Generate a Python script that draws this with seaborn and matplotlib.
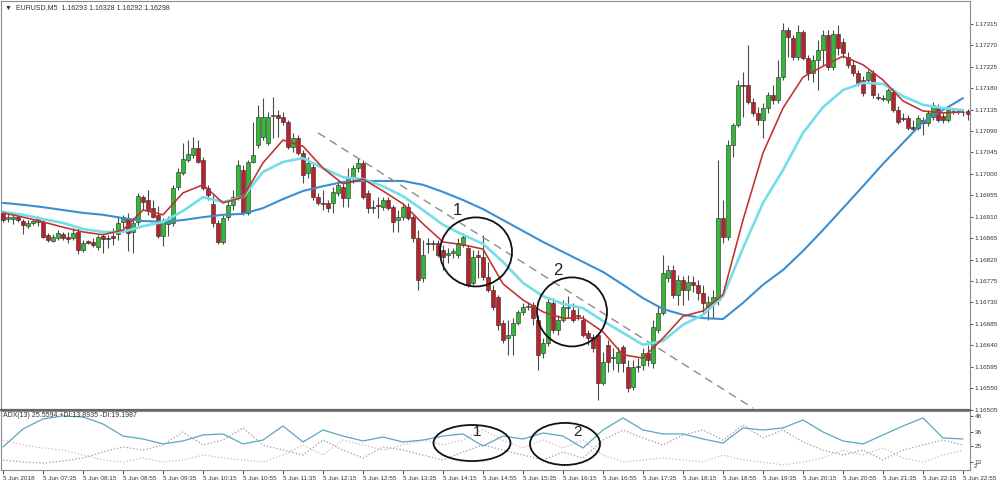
import numpy as np
import pandas as pd
import matplotlib
matplotlib.use("Agg")
import matplotlib.pyplot as plt
import seaborn as sns
from matplotlib.patches import Ellipse

# ---------------- data (EURUSD M5, 5 Jun 2018) ----------------
open_ = [1.16918, 1.16905, 1.16905, 1.16909, 1.16901, 1.16890, 1.16897, 1.16899, 1.16899, 1.16872,
         1.16859, 1.16865, 1.16874, 1.16867, 1.16865, 1.16878, 1.16840, 1.16859, 1.16857, 1.16846,
         1.16869, 1.16865, 1.16869, 1.16874, 1.16899, 1.16907, 1.16878, 1.16899, 1.16951, 1.16945,
         1.16928, 1.16914, 1.16869, 1.16895, 1.16897, 1.16972, 1.17002, 1.17029, 1.17040, 1.17054,
         1.17029, 1.16970, 1.16937, 1.16897, 1.16857, 1.16909, 1.16935, 1.16951, 1.17008, 1.16918,
         1.17025, 1.17061, 1.17077, 1.17065, 1.17121, 1.17124, 1.17119, 1.17109, 1.17056, 1.17075,
         1.17044, 1.17002, 1.17014, 1.16951, 1.16939, 1.16939, 1.16939, 1.16960, 1.16972, 1.16949,
         1.16991, 1.17012, 1.17023, 1.16960, 1.16930, 1.16935, 1.16930, 1.16945, 1.16930, 1.16903,
         1.16909, 1.16930, 1.16909, 1.16865, 1.16781, 1.16855, 1.16855, 1.16855, 1.16840, 1.16830,
         1.16834, 1.16830, 1.16851, 1.16844, 1.16771, 1.16830, 1.16825, 1.16783, 1.16756, 1.16741,
         1.16687, 1.16655, 1.16662, 1.16687, 1.16710, 1.16720, 1.16725, 1.16693, 1.16624, 1.16645,
         1.16729, 1.16672, 1.16693, 1.16718, 1.16714, 1.16704, 1.16693, 1.16666, 1.16657, 1.16662,
         1.16561, 1.16641, 1.16613, 1.16603, 1.16636, 1.16594, 1.16552, 1.16594, 1.16599, 1.16624,
         1.16603, 1.16672, 1.16708, 1.16781, 1.16798, 1.16746, 1.16777, 1.16756, 1.16773, 1.16767,
         1.16750, 1.16720, 1.16729, 1.16735, 1.16907, 1.16867, 1.17061, 1.17103, 1.17187, 1.17187,
         1.17151, 1.17128, 1.17113, 1.17138, 1.17166, 1.17155, 1.17203, 1.17302, 1.17285, 1.17245,
         1.17298, 1.17243, 1.17212, 1.17239, 1.17260, 1.17292, 1.17224, 1.17294, 1.17277, 1.17245,
         1.17229, 1.17212, 1.17197, 1.17197, 1.17212, 1.17161, 1.17159, 1.17155, 1.17172, 1.17134,
         1.17117, 1.17117, 1.17098, 1.17096, 1.17113, 1.17107, 1.17119, 1.17140, 1.17121, 1.17113,
         1.17132, 1.17132, 1.17130, 1.17132]
close = [1.16903, 1.16909, 1.16909, 1.16903, 1.16893, 1.16897, 1.16901, 1.16907, 1.16867, 1.16861,
         1.16867, 1.16876, 1.16865, 1.16863, 1.16876, 1.16840, 1.16855, 1.16855, 1.16851, 1.16867,
         1.16863, 1.16863, 1.16865, 1.16897, 1.16909, 1.16876, 1.16897, 1.16953, 1.16941, 1.16924,
         1.16909, 1.16869, 1.16899, 1.16903, 1.16970, 1.17004, 1.17031, 1.17042, 1.17054, 1.17025,
         1.16970, 1.16956, 1.16897, 1.16857, 1.16907, 1.16935, 1.16951, 1.17019, 1.16918, 1.17025,
         1.17040, 1.17119, 1.17119, 1.17119, 1.17124, 1.17117, 1.17109, 1.17056, 1.17075, 1.17044,
         1.16998, 1.17023, 1.16951, 1.16939, 1.16937, 1.16928, 1.16962, 1.16977, 1.16949, 1.16991,
         1.17012, 1.17023, 1.16951, 1.16928, 1.16928, 1.16932, 1.16945, 1.16928, 1.16899, 1.16909,
         1.16930, 1.16907, 1.16865, 1.16777, 1.16830, 1.16853, 1.16853, 1.16830, 1.16825, 1.16834,
         1.16838, 1.16855, 1.16867, 1.16767, 1.16825, 1.16825, 1.16783, 1.16756, 1.16720, 1.16683,
         1.16651, 1.16662, 1.16687, 1.16710, 1.16720, 1.16722, 1.16697, 1.16620, 1.16645, 1.16731,
         1.16672, 1.16693, 1.16720, 1.16720, 1.16693, 1.16701, 1.16662, 1.16655, 1.16634, 1.16561,
         1.16605, 1.16605, 1.16615, 1.16626, 1.16603, 1.16550, 1.16594, 1.16596, 1.16624, 1.16609,
         1.16678, 1.16708, 1.16792, 1.16798, 1.16746, 1.16777, 1.16756, 1.16773, 1.16767, 1.16750,
         1.16729, 1.16731, 1.16741, 1.16907, 1.16867, 1.17061, 1.17103, 1.17187, 1.17184, 1.17151,
         1.17128, 1.17113, 1.17138, 1.17166, 1.17155, 1.17203, 1.17302, 1.17287, 1.17245, 1.17298,
         1.17243, 1.17212, 1.17239, 1.17260, 1.17292, 1.17224, 1.17294, 1.17264, 1.17254, 1.17229,
         1.17212, 1.17191, 1.17170, 1.17214, 1.17166, 1.17160, 1.17158, 1.17176, 1.17134, 1.17109,
         1.17116, 1.17096, 1.17094, 1.17117, 1.17107, 1.17128, 1.17145, 1.17113, 1.17113, 1.17134,
         1.17131, 1.17131, 1.17129, 1.17126]
high = [1.16924, 1.16916, 1.16918, 1.16914, 1.16905, 1.16903, 1.16905, 1.16911, 1.16903, 1.16876,
        1.16874, 1.16882, 1.16878, 1.16878, 1.16886, 1.16886, 1.16861, 1.16861, 1.16865, 1.16872,
        1.16876, 1.16872, 1.16886, 1.16911, 1.16914, 1.16918, 1.16907, 1.16960, 1.16956, 1.16966,
        1.16945, 1.16932, 1.16907, 1.16911, 1.16977, 1.17012, 1.17065, 1.17071, 1.17077, 1.17071,
        1.17035, 1.16977, 1.16956, 1.16903, 1.16914, 1.16945, 1.16966, 1.17029, 1.17019, 1.17029,
        1.17109, 1.17145, 1.17159, 1.17130, 1.17161, 1.17134, 1.17130, 1.17113, 1.17086, 1.17082,
        1.17050, 1.17035, 1.17023, 1.16960, 1.16966, 1.16945, 1.16972, 1.16987, 1.16979, 1.17012,
        1.17019, 1.17033, 1.17029, 1.16966, 1.16945, 1.16951, 1.16951, 1.16951, 1.16935, 1.16924,
        1.16939, 1.16939, 1.16914, 1.16882, 1.16861, 1.16865, 1.16861, 1.16861, 1.16851, 1.16844,
        1.16844, 1.16865, 1.16876, 1.16851, 1.16840, 1.16840, 1.16872, 1.16815, 1.16767, 1.16746,
        1.16693, 1.16693, 1.16697, 1.16714, 1.16729, 1.16731, 1.16731, 1.16704, 1.16655, 1.16741,
        1.16739, 1.16704, 1.16735, 1.16743, 1.16729, 1.16718, 1.16704, 1.16672, 1.16664, 1.16666,
        1.16626, 1.16651, 1.16634, 1.16636, 1.16641, 1.16609, 1.16609, 1.16613, 1.16634, 1.16641,
        1.16693, 1.16725, 1.16830, 1.16809, 1.16809, 1.16788, 1.16785, 1.16788, 1.16785, 1.16777,
        1.16767, 1.16743, 1.16756, 1.17029, 1.16945, 1.17071, 1.17107, 1.17197, 1.17214, 1.17271,
        1.17159, 1.17140, 1.17149, 1.17172, 1.17187, 1.17239, 1.17317, 1.17308, 1.17292, 1.17313,
        1.17302, 1.17250, 1.17250, 1.17281, 1.17302, 1.17302, 1.17302, 1.17313, 1.17285, 1.17256,
        1.17239, 1.17218, 1.17205, 1.17218, 1.17218, 1.17170, 1.17166, 1.17180, 1.17180, 1.17142,
        1.17128, 1.17124, 1.17113, 1.17124, 1.17119, 1.17134, 1.17151, 1.17147, 1.17128, 1.17142,
        1.17138, 1.17136, 1.17136, 1.17136]
low = [1.16899, 1.16899, 1.16895, 1.16899, 1.16874, 1.16886, 1.16893, 1.16890, 1.16865, 1.16857,
       1.16857, 1.16861, 1.16861, 1.16855, 1.16861, 1.16832, 1.16836, 1.16853, 1.16846, 1.16840,
       1.16834, 1.16844, 1.16851, 1.16861, 1.16886, 1.16838, 1.16834, 1.16893, 1.16924, 1.16914,
       1.16907, 1.16865, 1.16848, 1.16869, 1.16890, 1.16966, 1.16998, 1.17025, 1.17033, 1.17023,
       1.16966, 1.16945, 1.16888, 1.16853, 1.16853, 1.16903, 1.16924, 1.16945, 1.16914, 1.16914,
       1.17023, 1.17054, 1.17071, 1.17061, 1.17075, 1.17077, 1.17103, 1.17052, 1.17046, 1.17040,
       1.16981, 1.16991, 1.16945, 1.16935, 1.16924, 1.16920, 1.16918, 1.16953, 1.16930, 1.16930,
       1.16981, 1.17004, 1.16947, 1.16918, 1.16918, 1.16907, 1.16924, 1.16924, 1.16878, 1.16878,
       1.16903, 1.16903, 1.16857, 1.16756, 1.16773, 1.16834, 1.16840, 1.16825, 1.16798, 1.16813,
       1.16823, 1.16823, 1.16846, 1.16762, 1.16767, 1.16781, 1.16777, 1.16752, 1.16714, 1.16672,
       1.16645, 1.16620, 1.16620, 1.16683, 1.16704, 1.16714, 1.16683, 1.16588, 1.16613, 1.16638,
       1.16666, 1.16662, 1.16689, 1.16697, 1.16689, 1.16693, 1.16657, 1.16641, 1.16626, 1.16525,
       1.16557, 1.16584, 1.16588, 1.16584, 1.16584, 1.16542, 1.16546, 1.16584, 1.16588, 1.16596,
       1.16592, 1.16666, 1.16704, 1.16773, 1.16739, 1.16725, 1.16725, 1.16735, 1.16752, 1.16735,
       1.16704, 1.16693, 1.16697, 1.16725, 1.16855, 1.16861, 1.17035, 1.17098, 1.17119, 1.17147,
       1.17121, 1.17103, 1.17075, 1.17128, 1.17147, 1.17149, 1.17197, 1.17245, 1.17239, 1.17239,
       1.17239, 1.17197, 1.17193, 1.17176, 1.17229, 1.17218, 1.17218, 1.17250, 1.17243, 1.17222,
       1.17205, 1.17184, 1.17163, 1.17191, 1.17159, 1.17155, 1.17153, 1.17149, 1.17130, 1.17105,
       1.17111, 1.17092, 1.17088, 1.17092, 1.17082, 1.17100, 1.17113, 1.17109, 1.17107, 1.17109,
       1.17126, 1.17126, 1.17121, 1.17113]

# moving averages, one value every MA_STEP bars
MA_STEP = 4
ma_fast = [1.16918, 1.16909, 1.16899, 1.16888, 1.16878, 1.16872, 1.16882, 1.16924, 1.16914, 1.16960,
           1.16977, 1.16939, 1.16951, 1.17023, 1.17071, 1.17058, 1.17012, 1.16979, 1.16989, 1.16964,
           1.16937, 1.16895, 1.16857, 1.16851, 1.16842, 1.16769, 1.16735, 1.16710, 1.16697, 1.16697,
           1.16668, 1.16620, 1.16613, 1.16655, 1.16701, 1.16712, 1.16746, 1.16903, 1.17044, 1.17138,
           1.17203, 1.17226, 1.17247, 1.17229, 1.17197, 1.17153, 1.17132, 1.17128, 1.17130]
ma_mid = [1.16920, 1.16914, 1.16905, 1.16897, 1.16884, 1.16878, 1.16878, 1.16890, 1.16899, 1.16922,
          1.16951, 1.16941, 1.16951, 1.17004, 1.17025, 1.17033, 1.17012, 1.16993, 1.16989, 1.16974,
          1.16953, 1.16924, 1.16893, 1.16872, 1.16853, 1.16815, 1.16771, 1.16743, 1.16727, 1.16718,
          1.16691, 1.16666, 1.16641, 1.16649, 1.16683, 1.16704, 1.16743, 1.16844, 1.16939, 1.17008,
          1.17086, 1.17140, 1.17176, 1.17191, 1.17189, 1.17163, 1.17145, 1.17138, 1.17134]
ma_slow = [1.16939, 1.16935, 1.16930, 1.16924, 1.16918, 1.16914, 1.16907, 1.16901, 1.16899, 1.16903,
           1.16909, 1.16914, 1.16916, 1.16928, 1.16947, 1.16964, 1.16974, 1.16983, 1.16985, 1.16985,
           1.16985, 1.16977, 1.16962, 1.16945, 1.16926, 1.16903, 1.16880, 1.16857, 1.16836, 1.16815,
           1.16794, 1.16767, 1.16739, 1.16716, 1.16704, 1.16697, 1.16695, 1.16729, 1.16767, 1.16798,
           1.16838, 1.16882, 1.16928, 1.16974, 1.17021, 1.17065, 1.17109, 1.17134, 1.17159]

# ADX(13) panel, one value every MA_STEP bars
adx = [24.2, 38.0, 45.7, 48.0, 47.2, 41.8, 32.6, 30.3, 26.5, 28.8,
       33.4, 34.2, 26.5, 29.5, 40.3, 28.0, 37.2, 32.6, 28.8, 31.8,
       28.0, 29.5, 32.6, 34.2, 24.9, 32.6, 30.3, 34.9, 32.6, 23.4,
       37.2, 46.5, 37.2, 34.2, 34.2, 30.3, 27.2, 38.8, 37.2, 38.8,
       44.9, 35.7, 28.8, 26.5, 33.4, 40.3, 46.5, 31.1, 30.3]
di_plus = [14.2, 12.6, 11.8, 13.4, 15.7, 20.3, 24.2, 21.8, 25.7, 35.7,
           25.7, 29.5, 38.8, 25.7, 21.8, 18.0, 29.5, 21.8, 15.7, 24.2,
           21.8, 18.0, 14.2, 20.3, 25.7, 21.8, 18.0, 14.2, 20.3, 15.7,
           29.5, 37.2, 31.1, 25.7, 33.4, 37.2, 29.5, 41.1, 31.1, 37.2,
           28.0, 21.8, 18.0, 21.8, 14.2, 21.8, 25.7, 29.5, 25.7]
di_minus = [29.5, 25.7, 23.4, 21.8, 18.0, 14.2, 12.6, 15.7, 12.6, 14.2,
            18.0, 15.7, 14.2, 12.6, 18.0, 25.7, 18.0, 29.5, 25.7, 21.8,
            25.7, 29.5, 25.7, 29.5, 37.2, 29.5, 23.4, 29.5, 23.4, 29.5,
            18.0, 12.6, 14.2, 15.7, 14.2, 12.6, 18.0, 14.2, 12.6, 10.3,
            12.6, 15.7, 21.8, 18.0, 23.4, 15.7, 12.6, 18.0, 21.8]

price_ticks = [1.16505, 1.16550, 1.16595, 1.16640, 1.16685, 1.16730, 1.16775, 1.16820, 1.16865,
               1.16910, 1.16955, 1.17000, 1.17045, 1.17090, 1.17135, 1.17180, 1.17225, 1.17270,
               1.17315]
adx_ticks = [13, 25, 36, 48]
first_bar_time = "2018-06-05 06:55"
tick_times = ["06:55", "07:35", "08:15", "08:55", "09:35", "10:15", "10:55", "11:35", "12:15",
              "12:55", "13:35", "14:15", "14:55", "15:35", "16:15", "16:55", "17:35", "18:15",
              "18:55", "19:35", "20:15", "20:55", "21:35", "22:15", "22:55"]
tick_labels = ["5 Jun 2018"] + ["5 Jun " + t for t in tick_times[1:]]

trend_bars = [63, 150]
trend_prices = [1.17086, 1.16508]

# ---------------- style ----------------
sns.set_theme(style="white")
plt.rcParams['font.family'] = ['Liberation Sans', 'DejaVu Sans']

GREEN = '#33b935'
RED = '#b8232b'
TXT = '#333333'
SPINE = '#8a8a8a'

fig = plt.figure(figsize=(10, 4.86), dpi=100)
AX_W = 969 / 1000
ax = fig.add_axes([0.001, 76 / 486, AX_W, 409 / 486])
ax2 = fig.add_axes([0.001, 16 / 486, AX_W, 59 / 486])
XLIM = (-0.4, 193.4)

# ---------------- candles ----------------
o = np.array(open_); c = np.array(close); h = np.array(high); l = np.array(low)
bars = np.arange(len(o))
up = c >= o
ax.vlines(bars, l, h, color='#4a4a4a', linewidth=0.8, zorder=2)
body = np.maximum(np.abs(c - o), 0.000012)
ax.bar(bars, body, bottom=np.minimum(o, c), width=0.62,
       color=np.where(up, GREEN, RED), edgecolor='#2a2a2a', linewidth=0.4, zorder=3)

# ---------------- moving averages ----------------
ma_df = pd.DataFrame({'bar': np.arange(len(ma_fast)) * MA_STEP,
                      'fast': ma_fast, 'mid': ma_mid, 'slow': ma_slow})
sns.lineplot(data=ma_df, x='bar', y='slow', ax=ax, color='#3a8fd3', linewidth=1.5, zorder=4)
sns.lineplot(data=ma_df, x='bar', y='mid', ax=ax, color='#72dfe8', linewidth=1.9, zorder=5)
sns.lineplot(data=ma_df, x='bar', y='fast', ax=ax, color='#c0302f', linewidth=1.15, zorder=6)

ax.plot(trend_bars, trend_prices, color='#8c8c8c', linewidth=1.0, dashes=(6, 4), zorder=4)

# circles on main chart
for (cx, cy, w, hh, lab, lx, ly) in [(94.6, 1.16836, 14.4, 0.00145, '1', 90.8, 1.16922),
                                      (113.8, 1.16710, 14.0, 0.00145, '2', 111.0, 1.16796)]:
    ax.add_patch(Ellipse((cx, cy), w, hh, fill=False, edgecolor='#111111', linewidth=1.3, zorder=7))
    ax.text(lx, ly, lab, fontsize=12, color='#222222', ha='center', va='center', zorder=8)

ax.set_xlim(*XLIM)
ax.set_ylim(1.16504, 1.17363)
ax.set_xlabel(''); ax.set_ylabel('')
ax.yaxis.tick_right()
ax.set_yticks(price_ticks)
ax.set_yticklabels([f"{p:.5f}" for p in price_ticks])
ax.tick_params(axis='y', right=True, length=2, width=0.6, pad=1.2, labelsize=4.6, colors=TXT)
ax.set_xticks([])
for s in ax.spines.values():
    s.set_color(SPINE); s.set_linewidth(0.8)
ax.spines['bottom'].set_color('#666666'); ax.spines['bottom'].set_linewidth(1.6)

# ---------------- ADX panel ----------------
adx_df = pd.DataFrame({'bar': np.arange(len(adx)) * MA_STEP,
                       'adx': adx, 'dip': di_plus, 'dim': di_minus})
sns.lineplot(data=adx_df, x='bar', y='dim', ax=ax2, color='#c9bcb0', linewidth=0.9, linestyle=':')
sns.lineplot(data=adx_df, x='bar', y='dip', ax=ax2, color='#9b9b9b', linewidth=0.9, linestyle=':')
sns.lineplot(data=adx_df, x='bar', y='adx', ax=ax2, color='#5aa8c0', linewidth=0.9)

for (cx, cy, w, hh, lab, lx, ly) in [(93.8, 27.2, 15.4, 27.7, '1', 94.8, 35.7),
                                      (112.4, 26.5, 14.0, 32.3, '2', 114.8, 35.7)]:
    ax2.add_patch(Ellipse((cx, cy), w, hh, fill=False, edgecolor='#111111', linewidth=1.3,
                          zorder=7, clip_on=False))
    ax2.text(lx, ly, lab, fontsize=11, color='#222222', ha='center', va='center', zorder=8)

ax2.set_xlim(*XLIM)
ax2.set_ylim(6.5, 51.8)
ax2.set_xlabel(''); ax2.set_ylabel('')
ax2.yaxis.tick_right()
ax2.set_yticks(adx_ticks)
ax2.set_yticklabels([str(t) for t in adx_ticks])
ax2.tick_params(axis='y', right=True, length=2, width=0.6, pad=1.2, labelsize=4.6, colors=TXT)
ax2.text(1.004, 0.06, '2', transform=ax2.transAxes, fontsize=4.6, color=TXT, va='center')

times = pd.date_range(first_bar_time, periods=len(o), freq='5min')
hhmm = list(times.strftime('%H:%M'))
tick_pos = [hhmm.index(t) for t in tick_times]
ax2.set_xticks(tick_pos)
ax2.set_xticklabels(tick_labels, ha='left')
ax2.tick_params(axis='x', bottom=True, length=3, width=0.6, pad=1.5, labelsize=4.6, colors=TXT)
for s in ax2.spines.values():
    s.set_color(SPINE); s.set_linewidth(0.8)

# ---------------- header texts ----------------
fig.text(0.005, 1 - 8 / 486, '\u25bc  EURUSD,M5  1.16293 1.16328 1.16292 1.16298',
         fontsize=5, color=TXT, va='center', ha='left')
ax2.text(0.002, 0.92, 'ADX(13) 25.5594 +DI:13.8935 -DI:19.1987', transform=ax2.transAxes,
         fontsize=5, color=TXT, va='center', ha='left')

fig.savefig('out.png', dpi=100)
